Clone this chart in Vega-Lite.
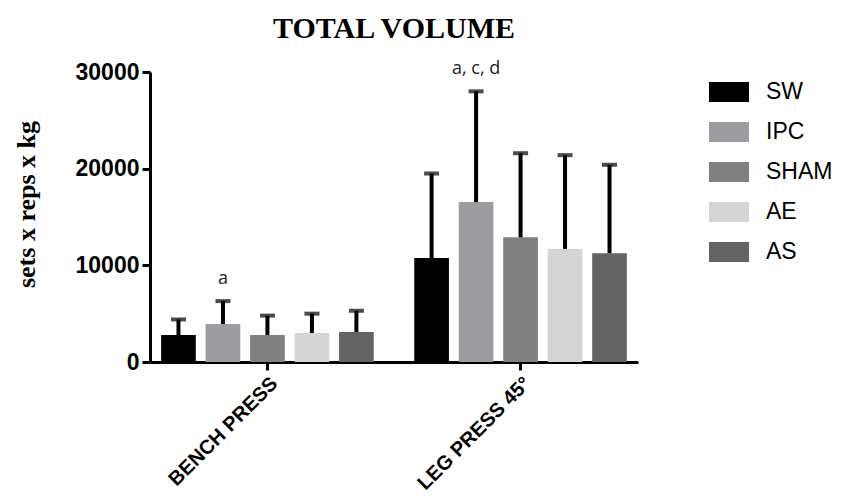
{
  "$schema": "https://vega.github.io/schema/vega-lite/v6.json",
  "width": 488,
  "height": 290,
  "autosize": "none",
  "padding": {"left": 150, "top": 72, "right": 204, "bottom": 142},
  "background": "white",
  "view": {"stroke": null},
  "title": {"text": "TOTAL VOLUME", "font": "Liberation Serif", "fontSize": 30, "fontWeight": "bold", "color": "#000", "anchor": "middle", "offset": 16},
  "data": {"values": [
    {"exercise": "BENCH PRESS", "group": "SW", "mean": 2790, "upper": 4400, "label": ""},
    {"exercise": "BENCH PRESS", "group": "IPC", "mean": 3930, "upper": 6300, "label": "a"},
    {"exercise": "BENCH PRESS", "group": "SHAM", "mean": 2800, "upper": 4800, "label": ""},
    {"exercise": "BENCH PRESS", "group": "AE", "mean": 3000, "upper": 5000, "label": ""},
    {"exercise": "BENCH PRESS", "group": "AS", "mean": 3100, "upper": 5300, "label": ""},
    {"exercise": "LEG PRESS 45°", "group": "SW", "mean": 10750, "upper": 19500, "label": ""},
    {"exercise": "LEG PRESS 45°", "group": "IPC", "mean": 16550, "upper": 28000, "label": "a, c, d"},
    {"exercise": "LEG PRESS 45°", "group": "SHAM", "mean": 12900, "upper": 21600, "label": ""},
    {"exercise": "LEG PRESS 45°", "group": "AE", "mean": 11700, "upper": 21400, "label": ""},
    {"exercise": "LEG PRESS 45°", "group": "AS", "mean": 11250, "upper": 20400, "label": ""}
  ]},
  "encoding": {
    "x": {"field": "exercise", "type": "nominal", "sort": null,
      "scale": {"paddingInner": 0.16, "paddingOuter": 0.044},
      "axis": {"title": null, "labelAngle": -45, "labelFont": "Liberation Sans", "labelFontSize": 20, "labelFontWeight": "bold", "labelColor": "#000", "domainColor": "#000", "domainWidth": 3, "tickColor": "#000", "tickWidth": 3, "tickSize": 8, "labelPadding": 3}},
    "xOffset": {"field": "group", "type": "nominal", "sort": ["SW", "IPC", "SHAM", "AE", "AS"],
      "scale": {"paddingInner": 0.22, "paddingOuter": 0}}
  },
  "layer": [
    {
      "mark": {"type": "bar"},
      "encoding": {
        "y": {"field": "mean", "type": "quantitative",
          "scale": {"domain": [0, 30000], "nice": false},
          "axis": {"values": [0, 10000, 20000, 30000], "format": "d", "grid": false,
            "title": "sets x reps x kg", "titleFont": "Liberation Serif", "titleFontSize": 26, "titleFontWeight": "bold", "titleColor": "#000",
            "titleX": -124, "titleY": 132, "titleAngle": -90, "titleBaseline": "middle", "titleAlign": "center",
            "labelFont": "Liberation Sans", "labelFontSize": 23, "labelFontWeight": "bold", "labelColor": "#000",
            "domainColor": "#000", "domainWidth": 3, "tickColor": "#000", "tickWidth": 3, "tickSize": 8, "labelPadding": 3}},
        "color": {"field": "group", "type": "nominal",
          "scale": {"domain": ["SW", "IPC", "SHAM", "AE", "AS"], "range": ["#000000", "#9d9da1", "#808080", "#d4d4d4", "#646464"]},
          "legend": {"title": null, "orient": "none", "legendX": 559, "legendY": 0, "padding": 0,
            "symbolType": "M-1,-0.5H1V0.5H-1Z", "symbolSize": 1600, "symbolStrokeWidth": 0,
            "labelFont": "Liberation Sans", "labelFontSize": 23, "labelColor": "#000", "labelOffset": 17, "rowPadding": 8}}
      }
    },
    {
      "mark": {"type": "rule", "color": "#000", "strokeWidth": 4},
      "encoding": {
        "y": {"field": "mean", "type": "quantitative"},
        "y2": {"field": "upper"}
      }
    },
    {
      "mark": {"type": "tick", "color": "#000", "thickness": 4, "size": 15},
      "encoding": {
        "y": {"field": "upper", "type": "quantitative"}
      }
    },
    {
      "mark": {"type": "text", "font": "Open Sans", "fontSize": 18, "color": "#222", "dy": -22, "baseline": "middle"},
      "encoding": {
        "y": {"field": "upper", "type": "quantitative"},
        "text": {"field": "label"}
      }
    }
  ]
}
